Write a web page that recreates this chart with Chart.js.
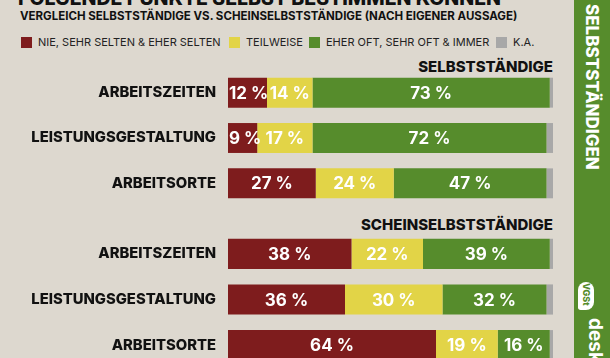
<!DOCTYPE html>
<html lang="de">
<head>
    <meta charset="UTF-8">
    <title>Selbst bestimmen</title>
    <script src="https://cdn.jsdelivr.net/npm/chart.js"></script>
    <style>
        html, body { margin: 0; padding: 0; }
        body { width: 610px; height: 358px; overflow: hidden; position: relative; background: #ddd8cf; font-family: Inter, "Open Sans", sans-serif; color: #111; }
        .abs { position: absolute; white-space: nowrap; }
        .title { left: 18px; top: -11px; font-size: 19.5px; line-height: 19px; font-weight: 800; }
        .subtitle { left: 20px; top: 11px; font-size: 11.5px; line-height: 11px; font-weight: 700; }
        .sq { position: absolute; top: 37px; width: 11px; height: 11px; }
        .lg { position: absolute; top: 37px; font-size: 11px; line-height: 11px; color: #222; white-space: nowrap; }
        .head { right: 57px; font-size: 15px; line-height: 14px; font-weight: 800; }
        .side { left: 574px; top: 0; width: 36px; height: 358px; background: #568c2c; }
        .sidetxt { left: 574px; top: 4px; width: 36px; writing-mode: vertical-rl; font-size: 17px; line-height: 36px; font-weight: 800; color: #fff; }
        .logo { left: 578px; top: 282px; width: 16px; height: 28px; background: #fff; border-radius: 9px 9px 9px 3px; }
        .logotxt { left: 578px; top: 283px; width: 16px; writing-mode: vertical-rl; font-size: 9px; line-height: 16px; font-weight: 800; color: #568c2c; }
        .desk { left: 584px; top: 318px; width: 22px; writing-mode: vertical-rl; font-size: 19px; line-height: 22px; font-weight: 700; color: #fff; }
        canvas { position: absolute; left: 0; }
    </style>
</head>
<body>
    <div class="abs title">FOLGENDE PUNKTE SELBST BESTIMMEN KÖNNEN</div>
    <div class="abs subtitle">VERGLEICH SELBSTSTÄNDIGE VS. SCHEINSELBSTSTÄNDIGE (NACH EIGENER AUSSAGE)</div>

    <!-- legend -->
    <div class="sq" style="left:21px;background:#7e1c1d"></div>
    <div class="lg" style="left:38px">NIE, SEHR SELTEN &amp; EHER SELTEN</div>
    <div class="sq" style="left:229px;background:#e2d447"></div>
    <div class="lg" style="left:246px">TEILWEISE</div>
    <div class="sq" style="left:309px;background:#568c2c"></div>
    <div class="lg" style="left:326px">EHER OFT, SEHR OFT &amp; IMMER</div>
    <div class="sq" style="left:496px;background:#a8a8a8"></div>
    <div class="lg" style="left:513px">K.A.</div>

    <div class="abs head" style="top:60px">SELBSTSTÄNDIGE</div>
    <div class="abs head" style="top:218px">SCHEINSELBSTSTÄNDIGE</div>

    <canvas id="selbst" style="top:70px" width="553" height="136"></canvas>
    <canvas id="schein" style="top:231px" width="553" height="137"></canvas>

    <div class="abs side"></div>
    <div class="abs sidetxt">SELBSTSTÄNDIGEN</div>
    <div class="abs logo"></div>
    <div class="abs logotxt">VGSt</div>
    <div class="abs desk">desk</div>

    <script>
        const categories = ['ARBEITSZEITEN', 'LEISTUNGSGESTALTUNG', 'ARBEITSORTE'];
        const seriesNames = ['NIE, SEHR SELTEN & EHER SELTEN', 'TEILWEISE', 'EHER OFT, SEHR OFT & IMMER', 'K.A.'];
        const colors = ['#7e1c1d', '#e2d447', '#568c2c', '#a8a8a8'];

        // Selbstständige
        const selbstNie = [12, 9, 27];
        const selbstTeil = [14, 17, 24];
        const selbstOft = [73, 72, 47];
        const selbstKa = [1, 2, 2];

        // Scheinselbstständige
        const scheinNie = [38, 36, 64];
        const scheinTeil = [22, 30, 19];
        const scheinOft = [39, 32, 16];
        const scheinKa = [1, 2, 1];

        // white percent labels in the middle of each segment (not for k.A.)
        const segmentLabels = {
            id: 'segmentLabels',
            afterDatasetsDraw(chart) {
                const ctx = chart.ctx;
                ctx.save();
                ctx.fillStyle = '#fff';
                ctx.font = '700 17px Inter, "Open Sans", sans-serif';
                ctx.textAlign = 'center';
                ctx.textBaseline = 'middle';
                chart.data.datasets.forEach((ds, i) => {
                    if (i === 3) return;
                    chart.getDatasetMeta(i).data.forEach((el, j) => {
                        const p = el.getProps(['x', 'y', 'base'], true);
                        const txt = ds.data[j] + ' %';
                        const w = ctx.measureText(txt).width;
                        // keep narrow labels from running off the left end of the bar
                        const x = Math.max((p.x + p.base) / 2, chart.chartArea.left + w / 2 + 1);
                        ctx.fillText(txt, x, p.y + 1);
                    });
                });
                ctx.restore();
            }
        };

        function makeChart(id, series) {
            return new Chart(document.getElementById(id), {
                type: 'bar',
                data: {
                    labels: categories,
                    datasets: series.map((d, i) => ({
                        label: seriesNames[i],
                        data: d,
                        backgroundColor: colors[i],
                        borderWidth: 0,
                        barPercentage: 0.66,
                        categoryPercentage: 1
                    }))
                },
                options: {
                    indexAxis: 'y',
                    responsive: false,
                    animation: false,
                    layout: { padding: 0 },
                    plugins: { legend: { display: false }, tooltip: { enabled: false } },
                    scales: {
                        x: { stacked: true, min: 0, max: 100, display: false },
                        y: {
                            stacked: true,
                            grid: { display: false, drawTicks: false },
                            border: { display: false },
                            ticks: { color: '#111', padding: 12, font: { family: 'Inter', size: 14.8, weight: '800' } },
                            afterFit: (s) => {
                                s.width = 228;
                                s.paddingTop = 0;
                                s.paddingBottom = 0;
                            }
                        }
                    }
                },
                plugins: [segmentLabels]
            });
        }

        makeChart('selbst', [selbstNie, selbstTeil, selbstOft, selbstKa]);
        makeChart('schein', [scheinNie, scheinTeil, scheinOft, scheinKa]);
    </script>
</body>
</html>
